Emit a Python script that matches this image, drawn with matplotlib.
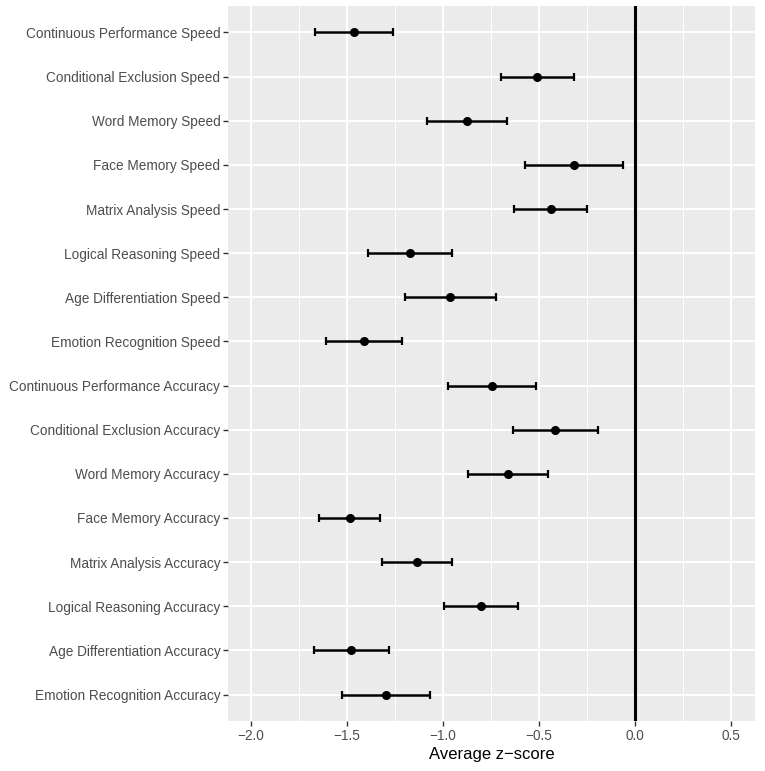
import numpy as np
import matplotlib
matplotlib.use("Agg")
import matplotlib.pyplot as plt

plt.rcParams['font.family'] = ['Liberation Sans', 'DejaVu Sans']

# tasks listed top to bottom
tasks = [
    "Continuous Performance Speed",
    "Conditional Exclusion Speed",
    "Word Memory Speed",
    "Face Memory Speed",
    "Matrix Analysis Speed",
    "Logical Reasoning Speed",
    "Age Differentiation Speed",
    "Emotion Recognition Speed",
    "Continuous Performance Accuracy",
    "Conditional Exclusion Accuracy",
    "Word Memory Accuracy",
    "Face Memory Accuracy",
    "Matrix Analysis Accuracy",
    "Logical Reasoning Accuracy",
    "Age Differentiation Accuracy",
    "Emotion Recognition Accuracy",
]

# mean z-score and interval bounds
mean_z = [-1.464, -0.510, -0.873, -0.316, -0.439, -1.174, -0.962, -1.413,
          -0.747, -0.415, -0.661, -1.486, -1.137, -0.804, -1.479, -1.299]
lower = [-1.667, -0.698, -1.083, -0.571, -0.628, -1.391, -1.196, -1.609,
         -0.972, -0.635, -0.872, -1.644, -1.318, -0.997, -1.674, -1.528]
upper = [-1.259, -0.319, -0.667, -0.061, -0.248, -0.955, -0.726, -1.215,
         -0.517, -0.191, -0.453, -1.326, -0.955, -0.608, -1.283, -1.068]

xticks = [-2.0, -1.5, -1.0, -0.5, 0.0, 0.5]

mean_z = np.array(mean_z)
lower = np.array(lower)
upper = np.array(upper)
n = len(tasks)
ypos = np.arange(n)[::-1] + 1  # first task at top

fig = plt.figure(figsize=(7.65, 7.71), dpi=100)
ax = fig.add_axes([228/765, 1 - 721/771, (755-228)/765, (721-6)/771])
ax.set_facecolor('#EBEBEB')

# grid
for x in xticks:
    ax.axvline(x, color='white', lw=1.4, zorder=0)
for x in np.arange(-2.25, 0.75, 0.5):
    ax.axvline(x, color='white', lw=0.7, zorder=0)
for y in ypos:
    ax.axhline(y, color='white', lw=1.4, zorder=0)

ax.axvline(0, color='black', lw=2.2, zorder=1)

ax.errorbar(mean_z, ypos, xerr=[mean_z - lower, upper - mean_z],
            fmt='o', color='black', ms=5.5, elinewidth=1.8,
            capsize=3, capthick=1.6, zorder=3)

ax.set_xlim(-2.12, 0.625)
ax.set_ylim(0.4, n + 0.6)
ax.set_xticks(xticks)
ax.set_xticklabels(['\u22122.0', '\u22121.5', '\u22121.0', '\u22120.5', '0.0', '0.5'])
ax.set_yticks(ypos)
ax.set_yticklabels(tasks)
ax.tick_params(colors='#333333', length=3.5, width=1.0, labelsize=9.8,
               labelcolor='#4D4D4D', pad=2)
ax.set_xlabel('Average z\u2212score', fontsize=12, color='black', labelpad=3)

for s in ax.spines.values():
    s.set_visible(False)

fig.savefig('out.png', dpi=100)
